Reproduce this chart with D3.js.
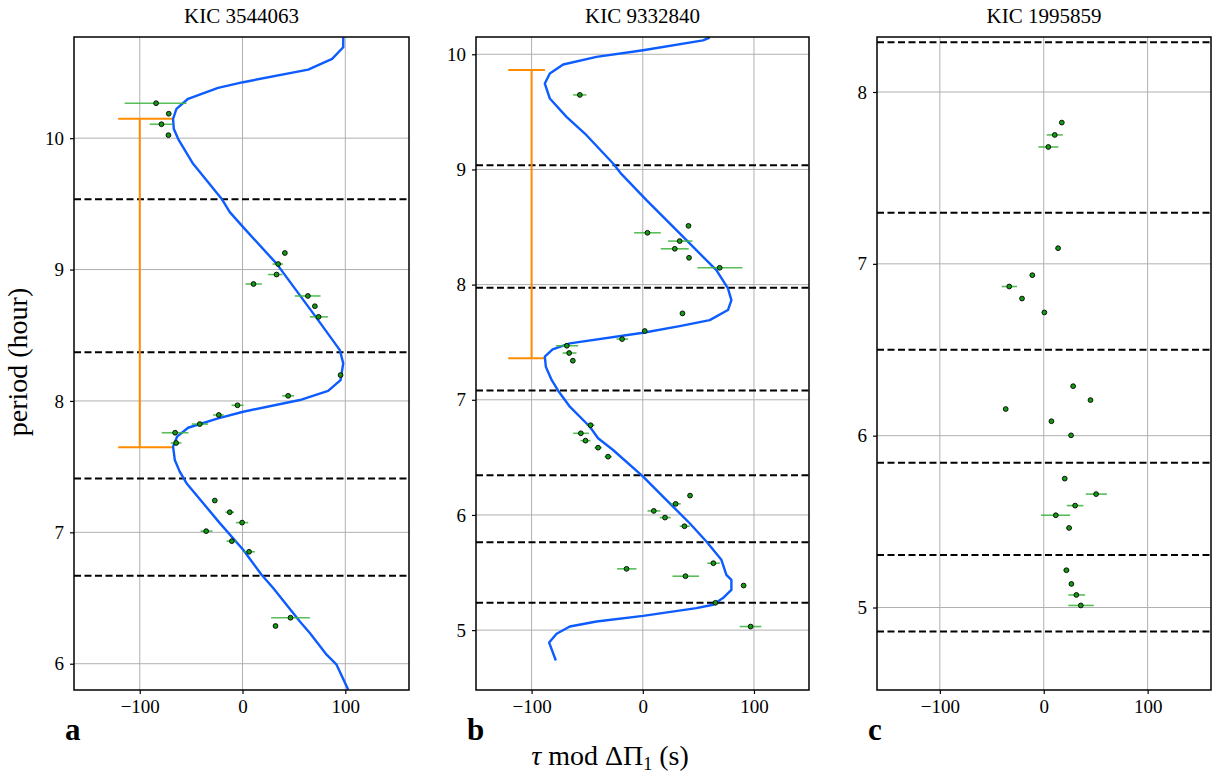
<!DOCTYPE html>
<html>
<head>
<meta charset="utf-8">
<script src="https://cdn.jsdelivr.net/npm/d3@7"></script>
<style>
  body { margin: 0; background: #fff; }
  text { font-family: "Liberation Serif", "DejaVu Serif", serif; fill: #000; }
</style>
</head>
<body>
<svg id="chart" width="1217" height="776"></svg>
<script>
// ---- data ----
const titles = ['KIC 3544063', 'KIC 9332840', 'KIC 1995859'];
const letters = ['a', 'b', 'c'];
const xTicks = [-100, 0, 100];

// model curve: [tau mod dPi1 (s), period (hour)]
const curveA = [
  [98.0, 10.768], [98.0, 10.692], [87.2, 10.603], [63.9, 10.522], [0.6, 10.426],
  [-23.8, 10.383], [-53.0, 10.300], [-64.3, 10.223], [-67.6, 10.147], [-66.9, 10.071],
  [-62.7, 9.995], [-48.1, 9.805], [-20.4, 9.539], [-12.4, 9.437], [0.6, 9.323],
  [33.1, 9.045], [73.6, 8.615], [94.7, 8.387], [98.0, 8.286], [95.4, 8.159],
  [83.3, 8.077], [55.8, 8.007], [0.6, 7.918], [-23.8, 7.868], [-53.0, 7.796],
  [-63.7, 7.728], [-67.6, 7.652], [-65.9, 7.551], [-61.1, 7.462], [-54.5, 7.374],
  [-22.1, 7.070], [0.6, 6.867], [18.5, 6.677], [29.8, 6.576], [55.8, 6.322],
  [65.5, 6.234], [81.8, 6.069], [91.5, 5.993], [102.8, 5.803]
];
const curveB = [
  [60.2, 10.145], [54.2, 10.121], [0.3, 10.035], [-41.6, 9.977], [-71.6, 9.911],
  [-83.6, 9.833], [-88.1, 9.746], [-83.6, 9.616], [-68.6, 9.456], [-50.6, 9.297],
  [-26.7, 9.052], [-19.1, 8.959], [3.3, 8.733], [30.3, 8.473], [48.2, 8.299],
  [66.2, 8.126], [76.6, 7.967], [79.7, 7.866], [76.6, 7.779], [60.2, 7.692],
  [33.2, 7.640], [0.3, 7.582], [-65.6, 7.490], [-81.1, 7.438], [-88.1, 7.374],
  [-87.2, 7.287], [-82.0, 7.172], [-76.1, 7.079], [-65.6, 6.940], [-47.6, 6.766],
  [-40.2, 6.666], [-26.7, 6.564], [0.3, 6.333], [18.2, 6.159], [42.2, 5.928],
  [57.2, 5.769], [70.7, 5.610], [75.2, 5.480], [79.7, 5.436], [79.7, 5.349],
  [72.1, 5.278], [63.2, 5.220], [48.2, 5.191], [0.3, 5.124], [-41.6, 5.075],
  [-65.6, 5.031], [-77.5, 4.968], [-84.2, 4.892], [-78.2, 4.736]
];
const curveC = [];

// observed modes: [tau, period, errLow, errHigh] (null = no visible bar)
const pointsA = [
  [-84.1, 10.266, -114.7, -54.5], [-71.8, 10.186, null, null], [-78.9, 10.106, -90.3, -68.2],
  [-72.1, 10.023, null, null], [41.2, 9.126, null, null], [34.7, 9.042, 29.2, 39.5],
  [33.1, 8.962, 24.9, 38.9], [10.7, 8.890, 2.9, 18.8], [63.6, 8.799, 50.9, 75.9],
  [70.4, 8.721, null, null], [74.0, 8.640, 65.5, 83.1], [95.4, 8.197, null, null],
  [44.4, 8.039, 38.6, 50.2], [-4.9, 7.967, -10.7, 1.0], [-23.1, 7.893, -28.6, -18.2],
  [-41.6, 7.824, -49.4, -33.5], [-65.6, 7.758, -78.6, -52.6], [-64.6, 7.680, -69.8, -59.4],
  [-27.0, 7.242, null, null], [-12.4, 7.153, -16.6, -8.2], [-0.4, 7.074, -6.5, 5.5],
  [-35.4, 7.009, -40.9, -29.2], [-10.4, 6.933, -15.6, -5.8], [6.4, 6.852, 1.3, 12.0],
  [46.7, 6.350, 27.8, 65.5], [32.1, 6.287, null, null]
];
const pointsB = [
  [-56.6, 9.647, -62.6, -50.6], [41.1, 8.510, null, null], [4.2, 8.450, -7.8, 16.2],
  [33.2, 8.378, 22.8, 44.7], [28.8, 8.311, 16.2, 41.3], [41.6, 8.233, null, null],
  [69.2, 8.146, 49.1, 89.6], [35.7, 7.750, null, null], [1.8, 7.597, null, null],
  [-18.6, 7.527, -23.7, -13.2], [-68.3, 7.469, -78.2, -58.1], [-66.2, 7.406, -72.1, -59.6],
  [-62.9, 7.339, null, null], [-47.0, 6.779, -50.6, -43.4], [-55.7, 6.709, -62.6, -48.5],
  [-51.5, 6.645, -56.0, -47.0], [-40.2, 6.584, -43.4, -36.8], [-31.2, 6.506, -34.4, -27.8],
  [42.5, 6.168, null, null], [29.6, 6.096, 25.1, 34.1], [9.9, 6.035, 4.2, 15.9],
  [20.0, 5.977, 15.2, 25.1], [37.5, 5.902, 33.2, 42.2], [63.5, 5.581, 58.1, 69.2],
  [-14.6, 5.532, -23.1, -5.7], [38.4, 5.468, 26.7, 50.6], [90.7, 5.387, null, null],
  [65.3, 5.237, null, null], [97.0, 5.031, 87.2, 106.6]
];
const pointsC = [
  [17.4, 7.822, null, null], [10.6, 7.750, 2.9, 18.3], [4.4, 7.680, -5.2, 14.1],
  [13.8, 7.091, null, null], [-11.0, 6.934, null, null], [-33.2, 6.868, -40.5, -25.7],
  [-20.9, 6.798, null, null], [0.6, 6.717, null, null], [28.3, 6.288, null, null],
  [45.0, 6.207, null, null], [-36.6, 6.155, null, null], [7.4, 6.084, null, null],
  [26.3, 6.002, null, null], [20.2, 5.750, 17.9, 22.5], [50.4, 5.660, 40.5, 60.8],
  [30.2, 5.593, 22.2, 38.2], [11.6, 5.537, -2.6, 25.4], [24.4, 5.463, 21.5, 27.3],
  [21.8, 5.217, 19.0, 24.6], [26.6, 5.137, null, null], [31.4, 5.073, 23.7, 39.8],
  [35.7, 5.012, 23.7, 48.2]
];

// dashed horizontal markers (period, hour)
const dashA = [9.536, 8.37, 7.41, 6.67];
const dashB = [9.037, 7.973, 7.08, 6.345, 5.763, 5.237];
const dashC = [8.29, 7.297, 6.50, 5.843, 5.306, 4.86];

// orange bracket: [x, yLow, yHigh, capLeft, capRight]
const bracketA = [-100, 7.647, 10.147, -121, -67.6];
const bracketB = [-100, 7.36, 9.864, -121, -88];

// axis ranges
const xDomains = [[-164, 162], [-150, 149.5], [-160.5, 161]];
const yDomains = [[5.80, 10.77], [4.48, 10.15], [4.52, 8.32]];
const yTicks = [[6, 7, 8, 9, 10], [5, 6, 7, 8, 9, 10], [5, 6, 7, 8]];

// ---- layout ----
const frames = [
  { left: 74, right: 409, top: 37, bottom: 690 },
  { left: 476, right: 809, top: 37, bottom: 690 },
  { left: 877, right: 1211, top: 37, bottom: 690 }
];
const curves = [curveA, curveB, curveC];
const points = [pointsA, pointsB, pointsC];
const dashes = [dashA, dashB, dashC];
const brackets = [bracketA, bracketB, null];

const svg = d3.select('#chart');

frames.forEach((f, i) => {
  const x = d3.scaleLinear().domain(xDomains[i]).range([f.left, f.right]);
  const y = d3.scaleLinear().domain(yDomains[i]).range([f.bottom, f.top]);
  const g = svg.append('g');
  const clipId = 'clip' + i;

  g.append('clipPath').attr('id', clipId)
    .append('rect')
    .attr('x', f.left).attr('y', f.top)
    .attr('width', f.right - f.left).attr('height', f.bottom - f.top);

  // grid
  const grid = g.append('g').attr('stroke', '#b0b0b0').attr('stroke-width', 1);
  grid.selectAll('.gx').data(xTicks).enter().append('line')
    .attr('x1', d => x(d)).attr('x2', d => x(d))
    .attr('y1', f.top).attr('y2', f.bottom);
  grid.selectAll('.gy').data(yTicks[i]).enter().append('line')
    .attr('y1', d => y(d)).attr('y2', d => y(d))
    .attr('x1', f.left).attr('x2', f.right);

  const plot = g.append('g').attr('clip-path', `url(#${clipId})`);

  // dashed lines
  plot.selectAll('.dash').data(dashes[i]).enter().append('line')
    .attr('x1', f.left).attr('x2', f.right)
    .attr('y1', d => y(d)).attr('y2', d => y(d))
    .attr('stroke', '#000').attr('stroke-width', 2)
    .attr('stroke-dasharray', '7,3.5');

  // orange bracket
  const b = brackets[i];
  if (b) {
    const og = plot.append('g').attr('stroke', '#ff8c00').attr('stroke-width', 2);
    og.append('line').attr('x1', x(b[0])).attr('x2', x(b[0]))
      .attr('y1', y(b[1])).attr('y2', y(b[2]));
    [b[1], b[2]].forEach(v => {
      og.append('line').attr('x1', x(b[3])).attr('x2', x(b[4]))
        .attr('y1', y(v)).attr('y2', y(v));
    });
  }

  // model curve
  if (curves[i].length) {
    const line = d3.line().x(d => x(d[0])).y(d => y(d[1]));
    plot.append('path').datum(curves[i])
      .attr('d', line)
      .attr('fill', 'none')
      .attr('stroke', '#0d5cff')
      .attr('stroke-width', 2.4)
      .attr('stroke-linejoin', 'round');
  }

  // error bars
  plot.selectAll('.err').data(points[i].filter(d => d[2] !== null)).enter().append('line')
    .attr('x1', d => x(d[2])).attr('x2', d => x(d[3]))
    .attr('y1', d => y(d[1])).attr('y2', d => y(d[1]))
    .attr('stroke', '#3cb43c').attr('stroke-width', 1.6).attr('opacity', 0.85);

  // points
  plot.selectAll('.pt').data(points[i]).enter().append('circle')
    .attr('cx', d => x(d[0])).attr('cy', d => y(d[1]))
    .attr('r', 2.4)
    .attr('fill', '#129a12')
    .attr('stroke', '#000').attr('stroke-width', 0.9);

  // frame
  g.append('rect')
    .attr('x', f.left).attr('y', f.top)
    .attr('width', f.right - f.left).attr('height', f.bottom - f.top)
    .attr('fill', 'none').attr('stroke', '#000').attr('stroke-width', 1.5);

  // axes
  const xAxis = g.append('g').attr('transform', `translate(0,${f.bottom})`)
    .call(d3.axisBottom(x).tickValues(xTicks).tickSize(4).tickPadding(6).tickFormat(d3.format('d')));
  const yAxis = g.append('g').attr('transform', `translate(${f.left},0)`)
    .call(d3.axisLeft(y).tickValues(yTicks[i]).tickSize(4).tickPadding(6).tickFormat(d3.format('d')));
  [xAxis, yAxis].forEach(a => {
    a.select('.domain').remove();
    a.selectAll('.tick line').attr('stroke', '#000').attr('stroke-width', 1.2);
    a.selectAll('.tick text').style('font-size', '19px')
      .style('font-family', '"Liberation Serif", serif');
  });

  // title and panel letter
  g.append('text')
    .attr('x', (f.left + f.right) / 2).attr('y', 23)
    .attr('text-anchor', 'middle')
    .style('font-size', '21px')
    .text(titles[i]);
  g.append('text')
    .attr('x', f.left - 9).attr('y', 740)
    .style('font-size', '31px').style('font-weight', 'bold')
    .text(letters[i]);
});

// shared axis labels
svg.append('text')
  .attr('transform', 'translate(27,362) rotate(-90)')
  .attr('text-anchor', 'middle')
  .style('font-size', '28px')
  .text('period (hour)');

const xl = svg.append('text')
  .attr('x', 610).attr('y', 765)
  .attr('text-anchor', 'middle')
  .style('font-size', '28px');
xl.append('tspan').style('font-style', 'italic').text('τ');
xl.append('tspan').text(' mod ΔΠ');
xl.append('tspan').attr('dy', 5).style('font-size', '18px').text('1');
xl.append('tspan').attr('dy', -5).text(' (s)');
</script>
</body>
</html>
